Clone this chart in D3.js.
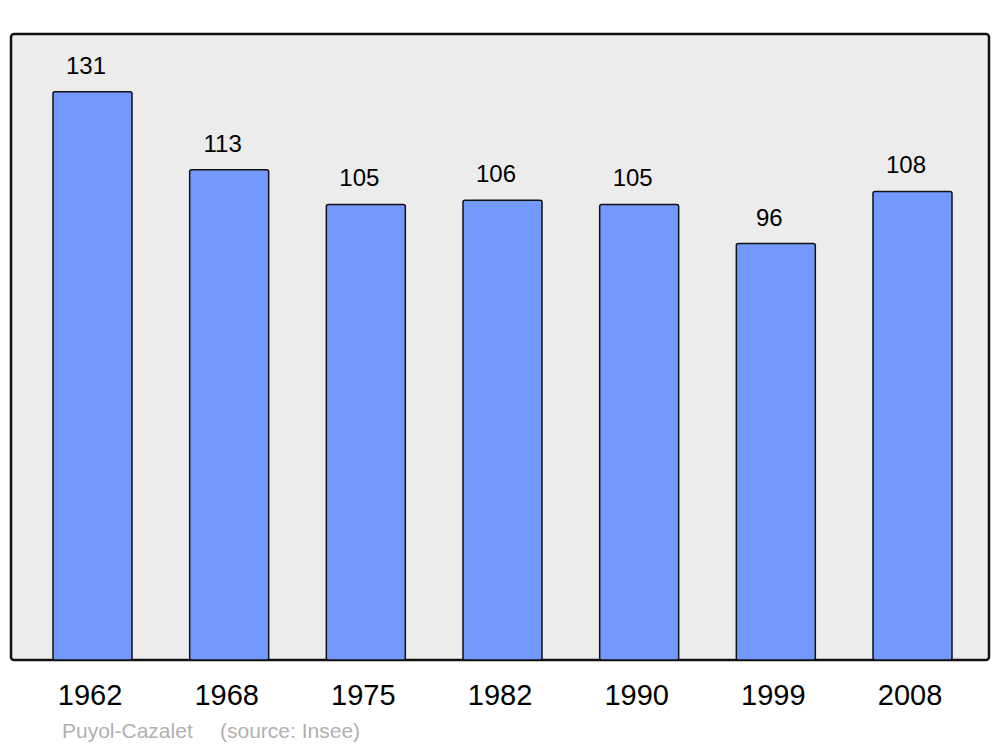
<!DOCTYPE html>
<html><head><meta charset="utf-8">
<script src="https://cdn.jsdelivr.net/npm/d3@7"></script>
<style>body{margin:0;background:#fff;}svg{display:block;font-family:"Liberation Sans",Arial,sans-serif;}</style>
</head><body>
<svg id="c" width="1000" height="747"></svg>
<script>
const years = ["1962","1968","1975","1982","1990","1999","2008"];
const population = [131,113,105,106,105,96,108];
const footerName = "Puyol-Cazalet";
const footerSource = "(source: Insee)";

const svg = d3.select("#c");
const panel = {x:11, y:34, w:978, h:626};

svg.append("rect").attr("x",panel.x).attr("y",panel.y).attr("width",panel.w).attr("height",panel.h)
  .attr("rx",3).attr("fill","#ececec").attr("stroke","#111").attr("stroke-width",2.5);

const x = d3.scaleBand().domain(years).range([53,952]).paddingInner(0.422).paddingOuter(0);
const y = d3.scaleLinear().domain([0,144.3]).range([660,34]);

const data = years.map((yr,i)=>({yr, v:population[i]}));

svg.selectAll("rect.bar").data(data).enter().append("rect").attr("class","bar")
  .attr("x",d=>x(d.yr)).attr("y",d=>y(d.v)).attr("width",x.bandwidth()).attr("height",d=>y(0)-y(d.v))
  .attr("rx",2).attr("fill","#7399ff").attr("stroke","#111").attr("stroke-width",1.5);

svg.selectAll("text.val").data(data).enter().append("text").attr("class","val")
  .attr("x",d=>x(d.yr)+x.bandwidth()/2-6.5).attr("y",d=>y(d.v)-18)
  .attr("text-anchor","middle").attr("font-size",24).attr("fill","#000").text(d=>d.v);

const xAxis = d3.axisBottom(x).tickSize(0).tickPadding(0);
const ax = svg.append("g").attr("transform","translate(-2.5,705)").call(xAxis);
ax.select(".domain").remove();
ax.selectAll("text").attr("font-size",29).attr("fill","#000").attr("dy",0)
  .attr("font-family","Liberation Sans, Arial, sans-serif");

const foot = svg.append("text").attr("x",62).attr("y",738).attr("font-size",21).attr("fill","#b0b0b0");
foot.append("tspan").text(footerName);
foot.append("tspan").attr("x",220).text(footerSource);
</script>
</body></html>
